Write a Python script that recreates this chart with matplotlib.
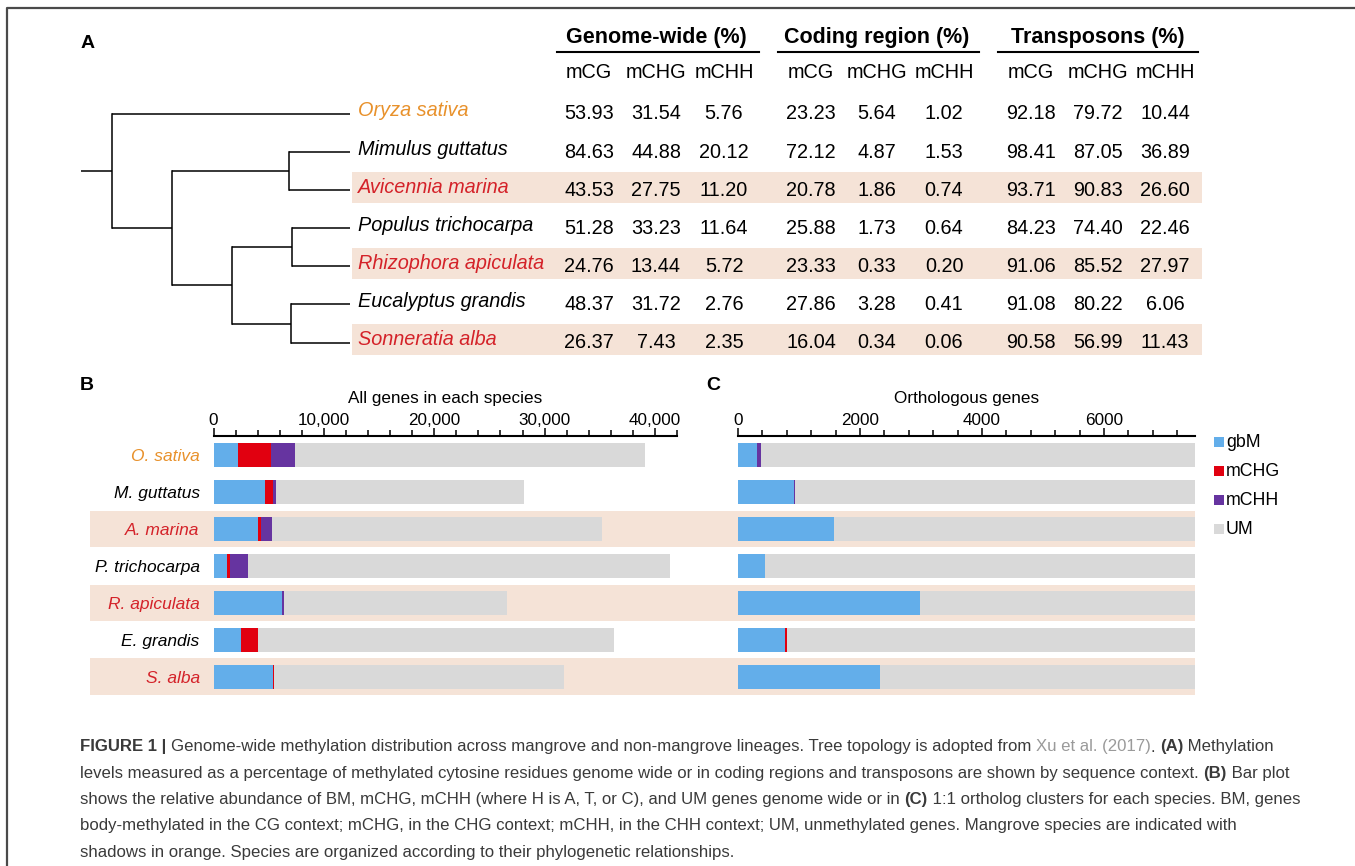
import matplotlib
matplotlib.use("Agg")
import matplotlib.pyplot as plt
from matplotlib.patches import Rectangle
from matplotlib.transforms import blended_transform_factory
import numpy as np

plt.rcParams['font.family'] = ['Liberation Sans', 'DejaVu Sans']

# ---------------- data ----------------
species_full = ["Oryza sativa", "Mimulus guttatus", "Avicennia marina", "Populus trichocarpa",
                "Rhizophora apiculata", "Eucalyptus grandis", "Sonneratia alba"]
species_short = ["O. sativa", "M. guttatus", "A. marina", "P. trichocarpa",
                 "R. apiculata", "E. grandis", "S. alba"]
mangrove = [False, False, True, False, True, False, True]
outgroup = [True, False, False, False, False, False, False]

genome_mCG = [53.93, 84.63, 43.53, 51.28, 24.76, 48.37, 26.37]
genome_mCHG = [31.54, 44.88, 27.75, 33.23, 13.44, 31.72, 7.43]
genome_mCHH = [5.76, 20.12, 11.20, 11.64, 5.72, 2.76, 2.35]
coding_mCG = [23.23, 72.12, 20.78, 25.88, 23.33, 27.86, 16.04]
coding_mCHG = [5.64, 4.87, 1.86, 1.73, 0.33, 3.28, 0.34]
coding_mCHH = [1.02, 1.53, 0.74, 0.64, 0.20, 0.41, 0.06]
te_mCG = [92.18, 98.41, 93.71, 84.23, 91.06, 91.08, 90.58]
te_mCHG = [79.72, 87.05, 90.83, 74.40, 85.52, 80.22, 56.99]
te_mCHH = [10.44, 36.89, 26.60, 22.46, 27.97, 6.06, 11.43]

table_groups = ["Genome-wide (%)", "Coding region (%)", "Transposons (%)"]
contexts = ["mCG", "mCHG", "mCHH"]

# all genes (panel B)
all_gbM = [2200, 4640, 4040, 1250, 6180, 2460, 5360]
all_mCHG = [3000, 750, 250, 250, 30, 1570, 140]
all_mCHH = [2200, 290, 960, 1600, 140, 0, 0]
all_UM = [31700, 22420, 29950, 38300, 20250, 32270, 26300]

# orthologous genes (panel C)
orth_gbM = [310, 910, 1580, 440, 2990, 770, 2320]
orth_mCHG = [0, 0, 0, 0, 0, 30, 0]
orth_mCHH = [70, 30, 0, 0, 0, 0, 0]
orth_UM = [7110, 6550, 5910, 7050, 4500, 6690, 5170]

series_names = ["gbM", "mCHG", "mCHH", "UM"]
series_colors = ["#63aeea", "#e10010", "#6634a0", "#d9d9d9"]

# tree: (tip index) or (node depth, [children]); depths in layout px
tree = (112, [0, (172, [(289, [1, 2]), (232, [(292, [3, 4]), (291, [5, 6])])])])
root_stub = 81
tip_x = 350

# ---------------- style ----------------
ORANGE = "#e8912b"
RED = "#d42229"
SHADE = "#f5e3d7"
label_colors = [ORANGE if o else (RED if m else "black") for o, m in zip(outgroup, mangrove)]

W, H = 1355, 866
fig = plt.figure(figsize=(W / 100, H / 100), dpi=100)

# pixel overlay
ov = fig.add_axes([0, 0, 1, 1])
ov.set_xlim(0, W); ov.set_ylim(H, 0); ov.axis('off')

# panel A axes: x in px, y in row index
row0, rowstep = 114, 38.1
axA = fig.add_axes([0, 0, 1, 1])
axA.set_facecolor('none')
axA.set_xlim(0, W)
axA.set_ylim((H - row0) / rowstep, (0 - row0) / rowstep)
axA.axis('off')

# frame
ov.plot([7, 7, W], [H, 8, 8], color="#4a4a4a", lw=1.6, solid_capstyle='butt')

# ---- Panel A ----
ov.text(88, 43, "A", fontsize=14, fontweight='bold', ha='center', va='center')

n = len(species_full)
for i in range(n):
    if mangrove[i]:
        axA.add_patch(Rectangle((352, i - 0.08 - 0.41), 1202 - 352, 0.82,
                                facecolor=SHADE, edgecolor='none', zorder=0))

def draw_tree(node):
    depth, children = node
    ys = []
    for ch in children:
        if isinstance(ch, int):
            y = ch
            axA.plot([depth, tip_x], [y, y], color='black', lw=1.1, solid_capstyle='butt')
        else:
            y, _ = draw_tree(ch)
            axA.plot([depth, ch[0]], [y, y], color='black', lw=1.1, solid_capstyle='butt')
        ys.append(y)
    axA.plot([depth, depth], [min(ys), max(ys)], color='black', lw=1.1, solid_capstyle='projecting')
    return (min(ys) + max(ys)) / 2, depth

ry, rd = draw_tree(tree)
axA.plot([root_stub, rd], [ry, ry], color='black', lw=1.1, solid_capstyle='butt')

for i, name in enumerate(species_full):
    axA.text(358, i - 0.08, name, fontsize=14.3, style='italic', color=label_colors[i],
             ha='left', va='center')

group_cols = [[589, 656, 724], [811, 877, 944], [1031, 1098, 1165]]
group_lines = [(557, 759), (778, 979), (998, 1198)]
group_data = [[genome_mCG, genome_mCHG, genome_mCHH],
              [coding_mCG, coding_mCHG, coding_mCHH],
              [te_mCG, te_mCHG, te_mCHH]]
for g, title in enumerate(table_groups):
    cx = group_cols[g]
    ov.text(cx[1], 38, title, fontsize=15.5, fontweight='bold', ha='center', va='center')
    ov.plot(group_lines[g], [52, 52], color='black', lw=1.5)
    for c, ctx in enumerate(contexts):
        ov.text(cx[c], 72, ctx, fontsize=14.3, ha='center', va='center')
        for i, v in enumerate(group_data[g][c]):
            axA.text(cx[c], i, f"{v:.2f}", fontsize=14.3, ha='center', va='center')

# ---- Panels B & C ----
top_px, bot_px = 436, 695
axB = fig.add_axes([213.6 / W, 1 - bot_px / H, (677 - 213.6) / W, (bot_px - top_px) / H])
axC = fig.add_axes([738 / W, 1 - bot_px / H, (1195 - 738) / W, (bot_px - top_px) / H])

ypos = np.arange(n)
bar_h = 0.65
for ax, data, xmax in [(axB, [all_gbM, all_mCHG, all_mCHH, all_UM], 42000),
                       (axC, [orth_gbM, orth_mCHG, orth_mCHH, orth_UM], 7490)]:
    ax.set_facecolor('none')
    left = np.zeros(n)
    for vals, col in zip(data, series_colors):
        ax.barh(ypos, vals, left=left, height=bar_h, color=col, edgecolor='none', zorder=2)
        left = left + np.array(vals)
    ax.set_xlim(0, xmax)
    ax.set_ylim(6.5, -0.514)
    for s in ['bottom', 'left', 'right']:
        ax.spines[s].set_visible(False)
    ax.spines['top'].set_linewidth(1.5)
    ax.xaxis.set_ticks_position('top')
    ax.xaxis.set_label_position('top')
    ax.tick_params(axis='x', which='major', length=5.5, width=1.1, pad=0.5, labelsize=12.3)
    ax.tick_params(axis='x', which='minor', length=4.5, width=1.1)

axB.set_xticks([0, 10000, 20000, 30000, 40000])
axB.set_xticklabels(["0", "10,000", "20,000", "30,000", "40,000"])
axB.set_xticks(np.arange(0, 42001, 2000), minor=True)
axB.set_xlabel("All genes in each species", fontsize=12.3, labelpad=7)
axB.set_yticks(ypos)
axB.set_yticklabels(species_short, fontsize=12.5, style='italic')
for lab, col in zip(axB.get_yticklabels(), label_colors):
    lab.set_color(col)
axB.tick_params(axis='y', length=0, pad=10)

axC.set_xticks([0, 2000, 4000, 6000])
axC.set_xticklabels(["0", "2000", "4000", "6000"])
axC.set_xticks(np.arange(0, 7490, 400), minor=True)
axC.set_xlabel("Orthologous genes", fontsize=12.3, labelpad=7)
axC.set_yticks([])

# shaded bands across B and C
bt = blended_transform_factory(ov.transData, axB.transData)
for i in range(n):
    if mangrove[i]:
        ov.add_patch(Rectangle((90, i - 0.49), 1195 - 90, 0.98, transform=bt,
                               facecolor=SHADE, edgecolor='none', clip_on=False, zorder=0))

ov.text(87, 385, "B", fontsize=14, fontweight='bold', ha='center', va='center')
ov.text(713, 385, "C", fontsize=14, fontweight='bold', ha='center', va='center')

# legend
for k, (name, col) in enumerate(zip(series_names, series_colors)):
    ov.add_patch(Rectangle((1214, 437 + 29 * k), 10, 10, facecolor=col, edgecolor='none'))
    ov.text(1226, 442.5 + 29 * k, name, fontsize=12.8, ha='left', va='center')

# ---- caption ----
cap_color = "#3a3a3a"
link_color = "#9a9a9a"
cap_fs = 12.1
caption_lines = [
    [("FIGURE 1 | ", 'bold', cap_color),
     ("Genome-wide methylation distribution across mangrove and non-mangrove lineages. Tree topology is adopted from ", 'normal', cap_color),
     ("Xu et al. (2017)", 'normal', link_color), (". ", 'normal', cap_color),
     ("(A)", 'bold', cap_color), (" Methylation", 'normal', cap_color)],
    [("levels measured as a percentage of methylated cytosine residues genome wide or in coding regions and transposons are shown by sequence context. ", 'normal', cap_color),
     ("(B)", 'bold', cap_color), (" Bar plot", 'normal', cap_color)],
    [("shows the relative abundance of BM, mCHG, mCHH (where H is A, T, or C), and UM genes genome wide or in ", 'normal', cap_color),
     ("(C)", 'bold', cap_color), (" 1:1 ortholog clusters for each species. BM, genes", 'normal', cap_color)],
    [("body-methylated in the CG context; mCHG, in the CHG context; mCHH, in the CHH context; UM, unmethylated genes. Mangrove species are indicated with", 'normal', cap_color)],
    [("shadows in orange. Species are organized according to their phylogenetic relationships.", 'normal', cap_color)],
]
renderer = fig.canvas.get_renderer()

def text_width(s, weight):
    t = ov.text(0, 0, "x" + s + "x", fontsize=cap_fs, fontweight=weight)
    w1 = t.get_window_extent(renderer).width
    t.remove()
    t = ov.text(0, 0, "xx", fontsize=cap_fs, fontweight=weight)
    w2 = t.get_window_extent(renderer).width
    t.remove()
    return w1 - w2

cap_y0, cap_dy = 747, 26.3
for li, pieces in enumerate(caption_lines):
    x = 80
    for s, weight, col in pieces:
        ov.text(x, cap_y0 + li * cap_dy, s, fontsize=cap_fs, fontweight=weight, color=col,
                ha='left', va='center')
        x += text_width(s, weight)

fig.savefig("out.png", dpi=100)
